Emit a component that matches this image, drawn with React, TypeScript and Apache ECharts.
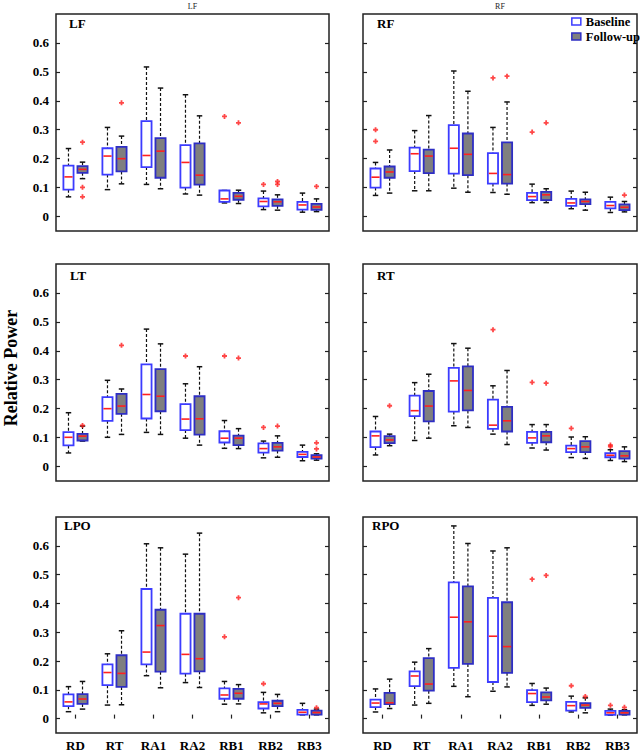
import React, { useEffect, useRef } from "react";
import * as echarts from "echarts";

const categories = ["RD", "RT", "RA1", "RA2", "RB1", "RB2", "RB3"];
const yTicks = [0, 0.1, 0.2, 0.3, 0.4, 0.5, 0.6];
const panelNames = ["LF", "RF", "LT", "RT", "LPO", "RPO"];
const columnTitles = ["LF", "RF"];
const yAxisTitle = "Relative Power";
const groupNames = ["Baseline", "Follow-up"];

// each row: [min, q1, median, q3, max]; outliers: [categoryIndex, value]
const lfBaseline = [
  [0.068, 0.093, 0.137, 0.176, 0.235],
  [0.093, 0.145, 0.209, 0.236, 0.308],
  [0.111, 0.171, 0.211, 0.33, 0.517],
  [0.078, 0.1, 0.187, 0.247, 0.421],
  [0.047, 0.051, 0.061, 0.09, 0.09],
  [0.024, 0.035, 0.052, 0.063, 0.088],
  [0.015, 0.024, 0.04, 0.051, 0.081],
];
const lfBaselineOut = [[4, 0.346], [5, 0.111]];
const lfFollow = [
  [0.131, 0.151, 0.163, 0.174, 0.188],
  [0.113, 0.156, 0.2, 0.241, 0.278],
  [0.096, 0.134, 0.226, 0.271, 0.444],
  [0.074, 0.11, 0.143, 0.253, 0.348],
  [0.045, 0.058, 0.07, 0.082, 0.091],
  [0.022, 0.037, 0.051, 0.059, 0.075],
  [0.017, 0.023, 0.033, 0.044, 0.061],
];
const lfFollowOut = [[0, 0.257], [0, 0.101], [0, 0.068], [1, 0.393], [4, 0.324], [5, 0.121], [5, 0.111], [6, 0.104]];

const rfBaseline = [
  [0.073, 0.1, 0.136, 0.166, 0.187],
  [0.089, 0.157, 0.217, 0.238, 0.297],
  [0.098, 0.148, 0.236, 0.316, 0.503],
  [0.083, 0.114, 0.149, 0.219, 0.308],
  [0.048, 0.057, 0.069, 0.082, 0.112],
  [0.027, 0.037, 0.047, 0.061, 0.088],
  [0.014, 0.028, 0.038, 0.051, 0.067],
];
const rfBaselineOut = [[0, 0.3], [0, 0.26], [3, 0.479], [4, 0.292]];
const rfFollow = [
  [0.081, 0.134, 0.154, 0.173, 0.23],
  [0.089, 0.15, 0.209, 0.231, 0.349],
  [0.084, 0.143, 0.215, 0.287, 0.433],
  [0.077, 0.114, 0.145, 0.256, 0.396],
  [0.048, 0.057, 0.075, 0.085, 0.096],
  [0.022, 0.043, 0.052, 0.059, 0.084],
  [0.016, 0.022, 0.032, 0.042, 0.052],
];
const rfFollowOut = [[3, 0.485], [4, 0.324], [6, 0.074]];

const ltBaseline = [
  [0.047, 0.073, 0.101, 0.119, 0.186],
  [0.101, 0.158, 0.2, 0.24, 0.298],
  [0.118, 0.166, 0.249, 0.353, 0.475],
  [0.098, 0.126, 0.164, 0.216, 0.286],
  [0.063, 0.083, 0.098, 0.122, 0.159],
  [0.03, 0.048, 0.062, 0.08, 0.088],
  [0.02, 0.033, 0.042, 0.051, 0.074],
];
const ltBaselineOut = [[3, 0.382], [4, 0.382], [5, 0.135]];
const ltFollow = [
  [0.088, 0.09, 0.105, 0.113, 0.14],
  [0.111, 0.182, 0.209, 0.251, 0.268],
  [0.111, 0.191, 0.243, 0.337, 0.424],
  [0.074, 0.11, 0.165, 0.243, 0.345],
  [0.062, 0.074, 0.098, 0.107, 0.131],
  [0.032, 0.055, 0.068, 0.082, 0.106],
  [0.022, 0.027, 0.033, 0.039, 0.044],
];
const ltFollowOut = [[0, 0.142], [1, 0.419], [4, 0.375], [5, 0.14], [6, 0.082], [6, 0.061]];

const rtBaseline = [
  [0.04, 0.067, 0.106, 0.121, 0.173],
  [0.09, 0.174, 0.193, 0.245, 0.29],
  [0.141, 0.19, 0.296, 0.341, 0.425],
  [0.112, 0.13, 0.143, 0.231, 0.279],
  [0.064, 0.082, 0.099, 0.12, 0.145],
  [0.031, 0.05, 0.062, 0.072, 0.102],
  [0.021, 0.032, 0.039, 0.046, 0.058],
];
const rtBaselineOut = [[3, 0.473], [4, 0.291], [5, 0.132], [6, 0.074], [6, 0.069]];
const rtFollow = [
  [0.072, 0.081, 0.092, 0.105, 0.112],
  [0.098, 0.156, 0.209, 0.261, 0.319],
  [0.135, 0.194, 0.263, 0.346, 0.409],
  [0.076, 0.121, 0.158, 0.206, 0.332],
  [0.057, 0.084, 0.106, 0.12, 0.145],
  [0.028, 0.05, 0.068, 0.088, 0.103],
  [0.017, 0.027, 0.037, 0.053, 0.068],
];
const rtFollowOut = [[0, 0.21], [4, 0.288]];

const lpoBaseline = [
  [0.024, 0.043, 0.058, 0.084, 0.111],
  [0.047, 0.116, 0.16, 0.188, 0.225],
  [0.149, 0.188, 0.231, 0.45, 0.607],
  [0.125, 0.156, 0.223, 0.364, 0.571],
  [0.05, 0.069, 0.082, 0.105, 0.129],
  [0.02, 0.035, 0.051, 0.057, 0.091],
  [0.013, 0.014, 0.022, 0.03, 0.053],
];
const lpoBaselineOut = [[4, 0.284], [5, 0.121]];
const lpoFollow = [
  [0.033, 0.051, 0.068, 0.085, 0.129],
  [0.048, 0.11, 0.157, 0.22, 0.305],
  [0.107, 0.163, 0.323, 0.378, 0.593],
  [0.108, 0.164, 0.208, 0.364, 0.644],
  [0.051, 0.069, 0.088, 0.103, 0.118],
  [0.024, 0.043, 0.053, 0.062, 0.084],
  [0.013, 0.014, 0.021, 0.028, 0.033],
];
const lpoFollowOut = [[4, 0.42], [6, 0.038]];

const rpoBaseline = [
  [0.023, 0.04, 0.054, 0.066, 0.103],
  [0.047, 0.113, 0.148, 0.164, 0.196],
  [0.112, 0.176, 0.352, 0.473, 0.669],
  [0.095, 0.127, 0.286, 0.419, 0.582],
  [0.046, 0.057, 0.087, 0.099, 0.122],
  [0.023, 0.028, 0.045, 0.058, 0.078],
  [0.012, 0.013, 0.02, 0.027, 0.033],
];
const rpoBaselineOut = [[4, 0.484], [5, 0.114], [6, 0.046]];
const rpoFollow = [
  [0.035, 0.05, 0.055, 0.089, 0.137],
  [0.053, 0.097, 0.12, 0.21, 0.243],
  [0.076, 0.19, 0.336, 0.459, 0.608],
  [0.11, 0.159, 0.25, 0.404, 0.593],
  [0.05, 0.063, 0.075, 0.091, 0.106],
  [0.02, 0.037, 0.047, 0.054, 0.072],
  [0.013, 0.014, 0.02, 0.027, 0.031],
];
const rpoFollowOut = [[4, 0.497], [5, 0.077], [6, 0.039]];

const panelBoxes = [
  [lfBaseline, lfFollow],
  [rfBaseline, rfFollow],
  [ltBaseline, ltFollow],
  [rtBaseline, rtFollow],
  [lpoBaseline, lpoFollow],
  [rpoBaseline, rpoFollow],
];
const panelOutliers = [
  [lfBaselineOut, lfFollowOut],
  [rfBaselineOut, rfFollowOut],
  [ltBaselineOut, ltFollowOut],
  [rtBaselineOut, rtFollowOut],
  [lpoBaselineOut, lpoFollowOut],
  [rpoBaselineOut, rpoFollowOut],
];

const FONT = '"Liberation Serif", "Times New Roman", serif';
const colLeft = [56, 363];
const colWidth = [273, 274];
const rowTop = [14, 264, 517];
const rowHeight = [217, 217, 216];
const labelPos = [
  [69, 17], [377, 17], [70, 269], [377, 269], [64, 519], [372, 519],
];

const styles = [
  { fill: "#ffffff", stroke: "#3c3cff" },
  { fill: "#7f7f7f", stroke: "#2e2ec4" },
];
const PLUS = "path://M1.6,0H3.4V1.6H5V3.4H3.4V5H1.6V3.4H0V1.6H1.6Z";

const makeRender = (side: number, fill: string, stroke: string) => (params: any, api: any) => {
  const ci = api.value(0);
  const pts = [1, 2, 3, 4, 5].map((k) => api.coord([ci, api.value(k)]));
  const band = api.size([1, 0])[0];
  const cx = pts[0][0] + side * band * 0.18;
  const hw = band * 0.13;
  const cap = band * 0.07;
  const [yMin, yQ1, yMed, yQ3, yMax] = pts.map((p: number[]) => p[1]);
  const dash = { stroke: "#111", lineWidth: 1.2, lineDash: [3, 2] };
  const solid = { stroke: "#111", lineWidth: 1.5 };
  return {
    type: "group",
    children: [
      { type: "line", shape: { x1: cx, y1: yMax, x2: cx, y2: yQ3 }, style: dash },
      { type: "line", shape: { x1: cx, y1: yQ1, x2: cx, y2: yMin }, style: dash },
      { type: "line", shape: { x1: cx - cap, y1: yMax, x2: cx + cap, y2: yMax }, style: solid },
      { type: "line", shape: { x1: cx - cap, y1: yMin, x2: cx + cap, y2: yMin }, style: solid },
      {
        type: "rect",
        shape: { x: cx - hw, y: yQ3, width: 2 * hw, height: yQ1 - yQ3 },
        style: { fill, stroke, lineWidth: 1.8 },
      },
      {
        type: "line",
        shape: { x1: cx - hw + 1, y1: yMed, x2: cx + hw - 1, y2: yMed },
        style: { stroke: "#ff2020", lineWidth: 1.6 },
      },
    ],
  };
};

export default function App() {
  const ref = useRef<HTMLDivElement>(null);
  useEffect(() => {
    document.body.style.margin = "0";
    if (!ref.current) return;
    const chart = echarts.init(ref.current, null, { renderer: "svg" });

    const grid: any[] = [];
    const xAxis: any[] = [];
    const yAxis: any[] = [];
    const series: any[] = [];
    const graphic: any[] = [];

    panelNames.forEach((name, p) => {
      const col = p % 2;
      const row = Math.floor(p / 2);
      const bottomRow = row === 2;
      grid.push({
        left: colLeft[col],
        width: colWidth[col],
        top: rowTop[row],
        height: rowHeight[row],
        show: true,
        borderColor: "#222",
        borderWidth: 1.5,
        backgroundColor: "transparent",
      });
      xAxis.push({
        type: "category",
        gridIndex: p,
        data: categories,
        axisLine: { show: false },
        axisTick: { show: bottomRow, inside: true, alignWithLabel: true, length: 4, lineStyle: { color: "#222", width: 1.2 } },
        axisLabel: {
          show: bottomRow,
          margin: 6,
          color: "#000",
          fontFamily: FONT,
          fontWeight: "bold",
          fontSize: 13,
        },
        splitLine: { show: false },
      });
      [0, 1].forEach((side) => {
        yAxis.push({
          type: "value",
          gridIndex: p,
          position: side === 0 ? "left" : "right",
          min: -0.05,
          max: 0.7,
          axisLine: { show: false },
          splitLine: { show: false },
          axisTick: {
            show: true,
            inside: true,
            length: 4,
            customValues: yTicks,
            lineStyle: { color: "#222", width: 1.2 },
          },
          axisLabel: {
            show: side === 0 && col === 0,
            customValues: yTicks,
            formatter: (v: number) => (v === 0 ? "0" : v.toFixed(1)),
            margin: 7,
            color: "#000",
            fontFamily: FONT,
            fontWeight: "bold",
            fontSize: 13,
          },
        });
      });
      [0, 1].forEach((g) => {
        series.push({
          type: "custom",
          name: groupNames[g],
          xAxisIndex: p,
          yAxisIndex: p * 2,
          renderItem: makeRender(g === 0 ? -1 : 1, styles[g].fill, styles[g].stroke),
          encode: { x: 0, y: [1, 2, 3, 4, 5] },
          data: panelBoxes[p][g].map((d, i) => [i, ...d]),
          z: 2,
        });
      });
      [0, 1].forEach((g) => {
        series.push({
          type: "scatter",
          name: groupNames[g],
          xAxisIndex: p,
          yAxisIndex: p * 2,
          symbol: PLUS,
          symbolSize: 5,
          symbolOffset: [g === 0 ? -7 : 7, 0],
          itemStyle: { color: "#ff1a1a" },
          data: panelOutliers[p][g],
          z: 3,
        });
      });
      graphic.push({
        type: "text",
        left: labelPos[p][0],
        top: labelPos[p][1],
        style: { text: name, fontFamily: FONT, fontWeight: "bold", fontSize: 13, fill: "#000" },
      });
    });

    columnTitles.forEach((t, c) => {
      graphic.push({
        type: "text",
        x: colLeft[c] + colWidth[c] / 2,
        y: 6,
        style: { text: t, fontFamily: FONT, fontSize: 8, fill: "#222", align: "center", verticalAlign: "middle" },
      });
    });
    graphic.push({
      type: "text",
      x: 11,
      y: 368,
      rotation: Math.PI / 2,
      style: {
        text: yAxisTitle,
        fontFamily: FONT,
        fontWeight: "bold",
        fontSize: 18,
        fill: "#000",
        align: "center",
        verticalAlign: "middle",
      },
    });

    chart.setOption({
      animation: false,
      backgroundColor: "#fff",
      grid,
      xAxis,
      yAxis,
      series,
      graphic,
      legend: {
        orient: "vertical",
        right: 0,
        top: 15,
        padding: 0,
        itemGap: 2,
        itemWidth: 9,
        itemHeight: 7,
        selectedMode: false,
        textStyle: { fontFamily: FONT, fontWeight: "bold", fontSize: 12.5, lineHeight: 12, color: "#000" },
        data: [
          { name: groupNames[0], icon: "rect", itemStyle: { color: styles[0].fill, borderColor: styles[0].stroke, borderWidth: 1.5 } },
          { name: groupNames[1], icon: "rect", itemStyle: { color: styles[1].fill, borderColor: styles[1].stroke, borderWidth: 1.5 } },
        ],
      },
    });
    return () => chart.dispose();
  }, []);
  return <div ref={ref} style={{ width: 640, height: 752 }} />;
}
